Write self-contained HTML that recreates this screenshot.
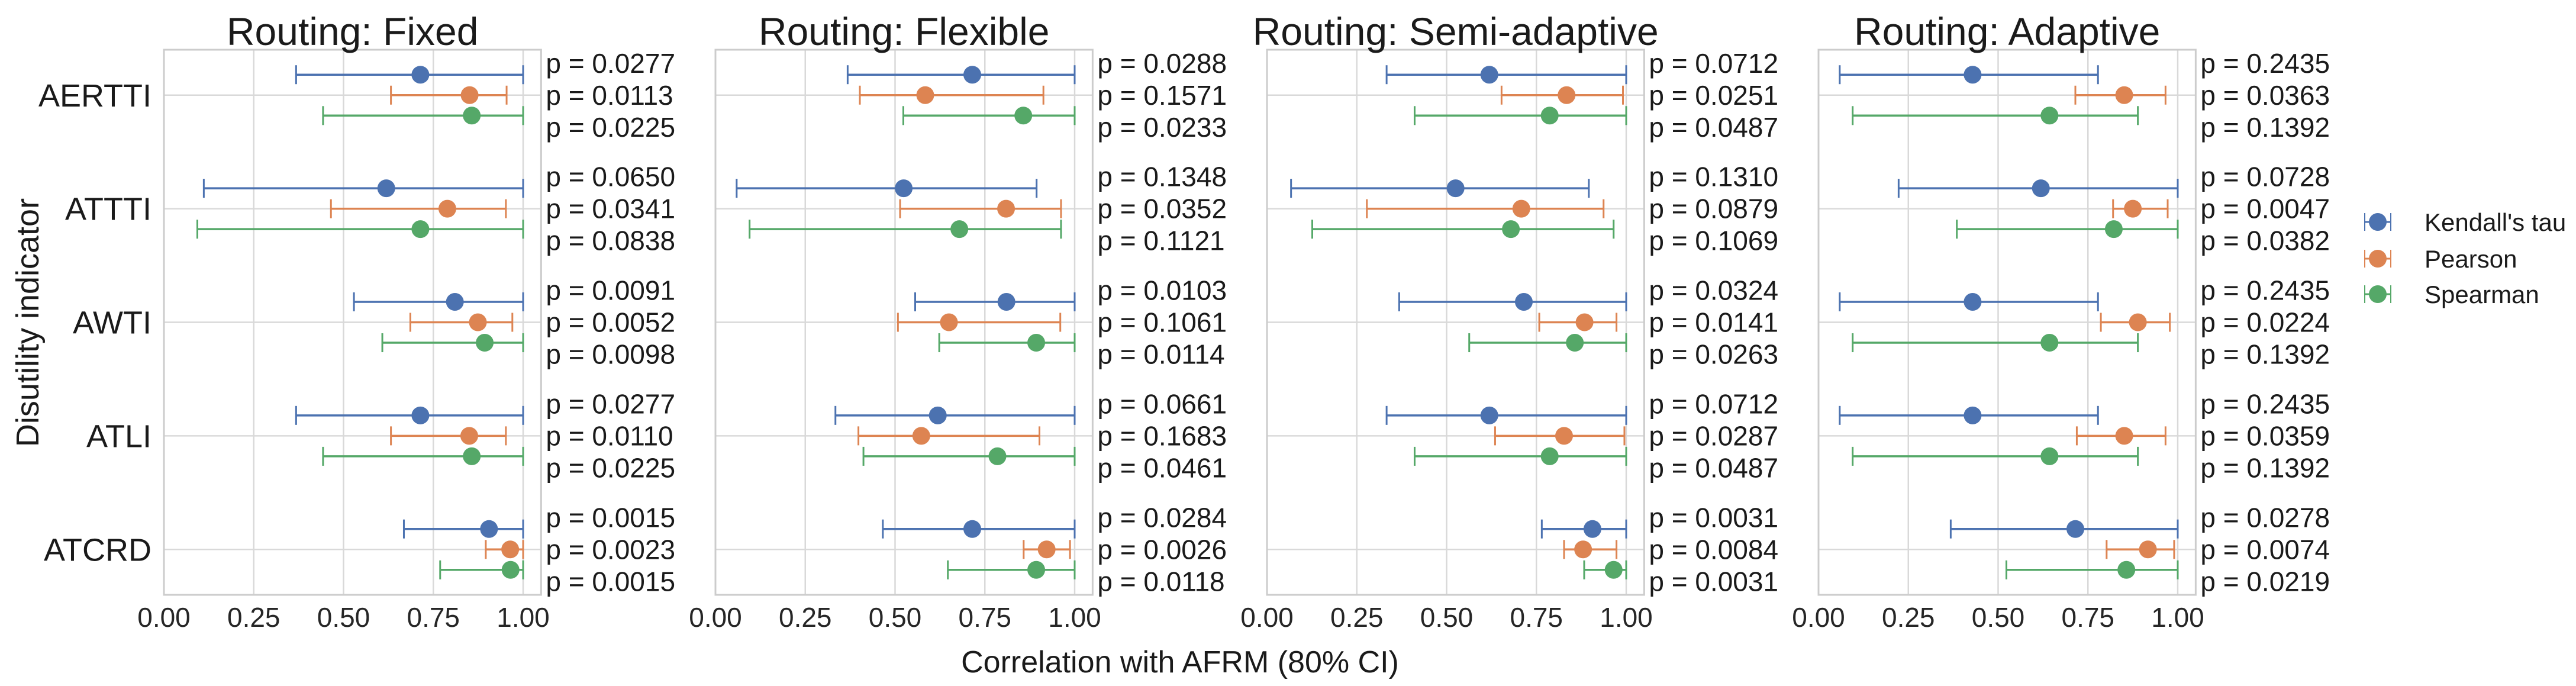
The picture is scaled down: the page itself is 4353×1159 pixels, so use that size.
<!DOCTYPE html>
<html><head><meta charset="utf-8"><style>
html,body{margin:0;padding:0;background:#fff;}
svg{display:block;font-family:"Liberation Sans",Arial,sans-serif;}
</style></head><body>
<svg id="chart" width="4353" height="1159" viewBox="0 0 4353 1159" xmlns="http://www.w3.org/2000/svg"></svg>
<script>
const panels = ["Routing: Fixed","Routing: Flexible","Routing: Semi-adaptive","Routing: Adaptive"];
const categories = ["AERTTI","ATTTI","AWTI","ATLI","ATCRD"];
const methods = ["Kendall's tau","Pearson","Spearman"];
const colors = ["#4C72B0","#DD8452","#55A868"];
const xTicks = [0,0.25,0.5,0.75,1.0];
const xTickLabels = ["0.00","0.25","0.50","0.75","1.00"];
// values[panel][category][method] = [low, point, high]
const fixedVals = [
 [[.368,.714,1],[.632,.851,.954],[.443,.857,1]],
 [[.111,.619,1],[.465,.789,.952],[.093,.714,1]],
 [[.529,.810,1],[.686,.874,.970],[.608,.893,1]],
 [[.368,.714,1],[.632,.850,.952],[.443,.857,1]],
 [[.668,.905,1],[.896,.964,1],[.769,.965,1]]];
const flexibleVals = [
 [[.368,.715,1],[.402,.584,.913],[.523,.857,1]],
 [[.059,.524,.894],[.514,.809,.962],[.095,.679,.962]],
 [[.556,.810,1],[.508,.650,.960],[.623,.893,1]],
 [[.334,.619,1],[.398,.573,.902],[.412,.785,1]],
 [[.466,.715,1],[.858,.922,.987],[.647,.893,1]]];
const semiVals = [
 [[.333,.619,1],[.653,.834,.991],[.411,.787,1]],
 [[.067,.525,.896],[.278,.708,.937],[.126,.679,.965]],
 [[.368,.715,1],[.758,.884,.973],[.563,.857,1]],
 [[.333,.619,1],[.635,.827,.995],[.411,.787,1]],
 [[.765,.906,1],[.827,.880,.973],[.883,.965,1]]];
const adaptiveVals = [
 [[.059,.429,.778],[.715,.851,.966],[.095,.643,.889]],
 [[.223,.619,1],[.820,.875,.972],[.385,.822,1]],
 [[.059,.429,.778],[.786,.889,.978],[.095,.643,.889]],
 [[.059,.429,.778],[.719,.851,.966],[.095,.643,.889]],
 [[.368,.715,1],[.802,.917,.990],[.523,.857,1]]];
const pFixed = [["0.0277","0.0113","0.0225"],["0.0650","0.0341","0.0838"],["0.0091","0.0052","0.0098"],["0.0277","0.0110","0.0225"],["0.0015","0.0023","0.0015"]];
const pFlexible = [["0.0288","0.1571","0.0233"],["0.1348","0.0352","0.1121"],["0.0103","0.1061","0.0114"],["0.0661","0.1683","0.0461"],["0.0284","0.0026","0.0118"]];
const pSemi = [["0.0712","0.0251","0.0487"],["0.1310","0.0879","0.1069"],["0.0324","0.0141","0.0263"],["0.0712","0.0287","0.0487"],["0.0031","0.0084","0.0031"]];
const pAdaptive = [["0.2435","0.0363","0.1392"],["0.0728","0.0047","0.0382"],["0.2435","0.0224","0.1392"],["0.2435","0.0359","0.1392"],["0.0278","0.0074","0.0219"]];

const allVals=[fixedVals,flexibleVals,semiVals,adaptiveVals];
const allP=[pFixed,pFlexible,pSemi,pAdaptive];
const svg=document.getElementById('chart');
const NS="http://www.w3.org/2000/svg";
function mk(tag,attrs,parent){const e=document.createElementNS(NS,tag);for(const k in attrs)e.setAttribute(k,attrs[k]);(parent||svg).appendChild(e);return e;}
const panelX0=[277,1209,2141,3073];
const unit=607, topY=84, bottomY=1005;
const rowH=(bottomY-topY)/4.8;
function yScale(c){return topY+(c+0.4)*rowH;}
const offs=[-0.18,0,0.18];

panels.forEach((title,pi)=>{
  const x0=panelX0[pi];
  const xs=v=>x0+v*unit;
  const g=mk('g',{});
  
  
  xTicks.forEach((t,i)=>{
    const l=mk('line',{x1:xs(t),x2:xs(t),y1:topY,y2:bottomY,stroke:'#d9d9d9','stroke-width':2.5},g);
    
    
    const tx=mk('text',{x:xs(t),y:1059,'text-anchor':'middle','font-size':46,fill:'#262626'},g);
    tx.textContent=xTickLabels[i];
    
    
  });
  categories.forEach((c,ci)=>{
    const l=mk('line',{x1:x0,x2:xs(1.05),y1:yScale(ci),y2:yScale(ci),stroke:'#d9d9d9','stroke-width':2.5},g);
    
    
  });
  const fr=mk('rect',{x:x0,y:topY,width:unit*1.05,height:bottomY-topY,fill:'none',stroke:'#cccccc','stroke-width':3},g);
  
  
  const tt=mk('text',{x:x0+unit*0.525,y:76,'text-anchor':'middle','font-size':66,fill:'#1a1a1a'},g);
  tt.textContent=title;
  
  
  categories.forEach((c,ci)=>{
    methods.forEach((m,mi)=>{
      const v=allVals[pi][ci][mi];
      const y=yScale(ci+offs[mi]);
      const eg=mk('g',{},g);
      
      
      mk('line',{x1:xs(v[0]),x2:xs(v[2]),y1:y,y2:y,stroke:colors[mi],'stroke-width':3.5},eg);
      mk('line',{x1:xs(v[0]),x2:xs(v[0]),y1:y-16,y2:y+16,stroke:colors[mi],'stroke-width':3},eg);
      mk('line',{x1:xs(v[2]),x2:xs(v[2]),y1:y-16,y2:y+16,stroke:colors[mi],'stroke-width':3},eg);
      mk('circle',{cx:xs(v[1]),cy:y,r:15,fill:colors[mi]},eg);
      const pt=mk('text',{x:x0+unit*1.05+8,y:yScale(ci)+(mi-1)*54+16,'font-size':46,fill:'#1a1a1a'},g);
      pt.textContent='p = '+allP[pi][ci][mi];
      
      
    });
    if(pi===0){
      const cl=mk('text',{x:256,y:yScale(ci)+19,'text-anchor':'end','font-size':54,fill:'#1a1a1a'});
      cl.textContent=c;
      
      
    }
  });
});
const yl=mk('text',{x:0,y:0,transform:'translate(65,545) rotate(-90)','text-anchor':'middle','font-size':54,fill:'#1a1a1a'});
yl.textContent='Disutility indicator';


const xl=mk('text',{x:1994,y:1136,'text-anchor':'middle','font-size':52,fill:'#1a1a1a'});
xl.textContent='Correlation with AFRM (80% CI)';


const lg=mk('g',{});


const legY=[375,437,497];
methods.forEach((m,mi)=>{
  const e=mk('g',{},lg);
  
  
  mk('line',{x1:3996,x2:4040,y1:legY[mi],y2:legY[mi],stroke:colors[mi],'stroke-width':3},e);
  mk('line',{x1:3996,x2:3996,y1:legY[mi]-15,y2:legY[mi]+15,stroke:colors[mi],'stroke-width':2},e);
  mk('line',{x1:4040,x2:4040,y1:legY[mi]-15,y2:legY[mi]+15,stroke:colors[mi],'stroke-width':2},e);
  mk('circle',{cx:4018,cy:legY[mi],r:15,fill:colors[mi]},e);
  const t=mk('text',{x:4097,y:legY[mi]+15,'font-size':42,fill:'#1a1a1a'},e);
  t.textContent=m;
});
</script>
</body></html>
